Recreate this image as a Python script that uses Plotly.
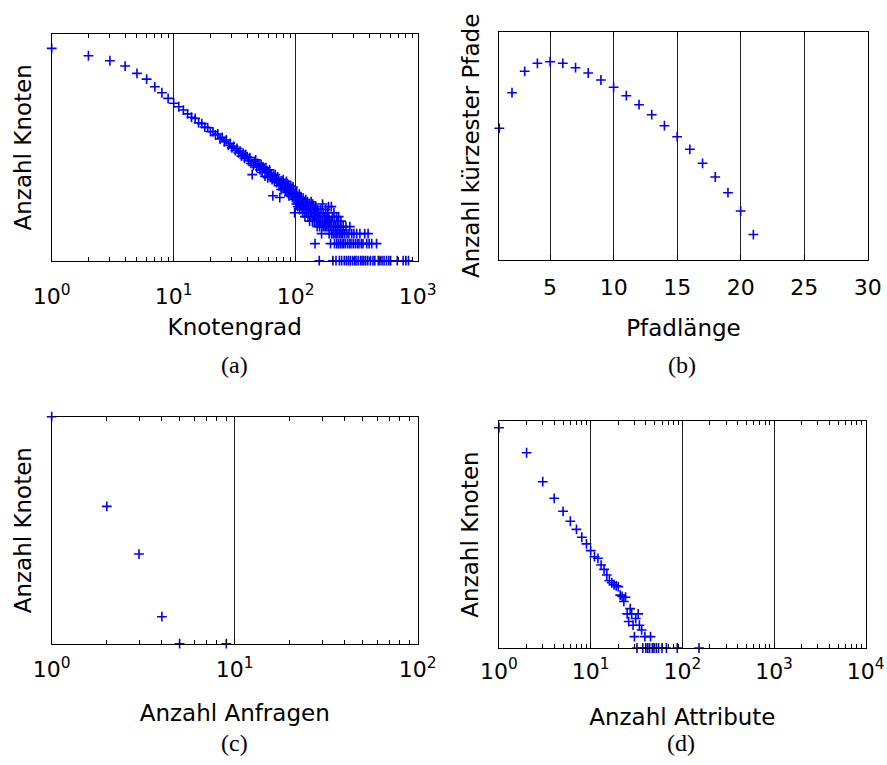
import plotly.graph_objects as go

# (a) Knotengrad -> Anzahl Knoten
grad_a = [1, 2, 3, 4, 5, 6, 7, 8, 9,
          10, 11, 12, 13, 14, 15, 16, 17, 18, 19, 20, 21, 22, 23, 24, 25, 26, 27, 28, 29,
          30, 31, 32, 33, 34, 35, 36, 37, 38, 39, 40, 41, 42, 43, 44, 45, 46, 47, 48, 49,
          50, 51, 52, 53, 54, 55, 56, 57, 58, 59, 60, 61, 62, 63, 64, 65, 66, 67, 68, 69,
          70, 71, 72, 73, 74, 75, 76, 77, 78, 79, 80, 81, 82, 83, 84, 85, 86, 87, 88, 89,
          90, 91, 92, 93, 94, 95, 96, 97, 98, 99,
          100, 101, 102, 103, 104, 105, 106, 107, 108, 109, 110, 111, 112, 113, 114, 115,
          116, 117, 118, 119, 120, 121, 122, 123, 124, 125, 126, 127, 128, 129, 130, 131,
          132, 133, 134, 135, 136, 137, 138, 139, 140, 141, 142, 143, 144, 145, 146, 147,
          148, 150, 151, 152, 153, 155, 156, 157, 158, 160, 161, 163, 164, 165, 166, 167,
          168, 170, 172, 173, 175, 176, 177, 178, 180, 182, 183, 185, 186, 187, 188, 190,
          192, 193, 195, 196, 197, 198, 200, 202, 203, 205, 206, 207, 208, 210, 212, 214,
          215, 216, 217, 219, 220, 222, 224, 225, 226, 228, 230, 232, 234, 235, 236, 238,
          240, 243, 245, 247, 250, 252, 255, 258, 260, 263, 266, 270, 273, 276, 278, 280,
          284, 288, 292, 296, 300, 304, 308, 312, 316, 320, 325, 330, 336, 340, 345, 350,
          356, 362, 368, 375, 382, 390, 392, 400, 410, 420, 430, 445, 460, 475, 490, 510,
          530, 555, 580, 600, 680, 760, 800, 840]
anzahl_a = [5570, 4130, 3370, 2720, 2020, 1600, 1170, 920, 730,
            600, 520, 455, 390, 340, 325, 270, 262, 228, 222, 190, 188, 165, 172, 140, 150, 126, 135, 108, 118,
            98, 104, 88, 96, 80, 86, 70, 79, 64, 74, 68, 58, 66, 52, 33, 48, 56, 60, 44, 52,
            47, 40, 50, 36, 45, 42, 31, 44, 38, 29, 36, 40, 30, 34, 27, 14, 31, 25, 33, 28,
            24, 30, 26, 21, 13, 23, 18, 25, 22, 27, 19, 23, 17, 21, 25, 16, 20, 22, 14, 19,
            17, 21, 15, 18, 13, 20, 16, 12, 7, 15,
            14, 10, 16, 12, 9, 13, 11, 15, 8, 12, 10, 13, 9, 11, 7, 12,
            10, 8, 11, 6, 9, 12, 7, 10, 8, 11, 6, 9, 7, 10, 5, 8,
            9, 6, 11, 7, 8, 5, 10, 6, 9, 7, 5, 8, 2, 6, 9, 5,
            7, 4, 8, 6, 5, 7, 1, 4, 6, 5, 8, 3, 4, 6, 10, 5,
            7, 4, 6, 5, 4, 8, 6, 5, 4, 7, 5, 4, 9, 6, 3, 5,
            4, 2, 5, 9, 3, 4, 6, 1, 3, 4, 7, 5, 2, 3, 4, 1,
            3, 6, 2, 4, 5, 3, 2, 6, 4, 1, 3, 2, 4, 5, 3, 1,
            2, 3, 4, 2, 1, 3, 2, 4, 1, 3, 2, 1, 3, 2, 4, 1,
            2, 3, 1, 2, 3, 1, 2, 1, 3, 2, 1, 2, 3, 1, 2, 1,
            2, 1, 3, 1, 2, 1, 3, 2, 1, 2, 1, 1, 2, 1, 1, 1,
            1, 1, 1, 1, 1, 1, 1, 1]

# (b) Pfadlaenge -> Anzahl kuerzester Pfade
laenge_b = [1, 2, 3, 4, 5, 6, 7, 8, 9, 10, 11, 12, 13, 14, 15, 16, 17, 18, 19, 20, 21]
pfade_b = [5.87e5, 2.13e7, 1.84e8, 4.13e8, 4.85e8, 4.13e8, 2.65e8, 1.55e8, 7.66e7, 3.67e7,
           1.57e7, 6.34e6, 2.31e6, 7.64e5, 2.52e5, 7.06e4, 1.72e4, 4320, 887, 140, 13]

# (c) Anzahl Anfragen -> Anzahl Knoten
anfragen_c = [1, 2, 3, 4, 5, 9]
knoten_c = [340, 34, 10, 2, 1, 1]

# (d) Anzahl Attribute -> Anzahl Knoten
attribute_d = [1, 2, 3, 4, 5, 6, 7, 8, 9, 10, 11, 12, 13, 14, 15, 16, 17, 18, 19, 20,
               21, 22, 23, 24, 25, 26, 27, 28, 29, 30, 31, 32, 33, 34, 36, 37, 39, 40,
               42, 44, 45, 47, 49, 52, 55, 60, 67, 88, 152]
knoten_d = [665000, 145000, 24900, 9060, 4110, 2240, 1370, 845, 565, 375, 259, 235, 156,
            120, 85, 60, 53, 47, 44, 42, 25, 23, 17, 22, 8, 5, 11, 8, 4, 2, 6, 1, 8, 4,
            3, 1, 2, 1, 1, 1, 2, 1, 1, 1, 1, 1, 1, 1, 1]

W, H = 887, 765
FONT = "DejaVu Sans"
BLUE = "#0000ff"


def dom_x(p0, p1):
    return [p0 / W, p1 / W]


def dom_y(top, bottom):
    return [1 - bottom / H, 1 - top / H]


def sup(vals):
    return ["10<sup>%d</sup>" % v for v in vals]


marker = dict(symbol="cross-thin", size=7, color=BLUE, line=dict(width=1.6, color=BLUE))

fig = go.Figure()
fig.add_trace(go.Scatter(x=grad_a, y=anzahl_a, mode="markers", marker=marker,
                         cliponaxis=False, xaxis="x", yaxis="y"))
fig.add_trace(go.Scatter(x=laenge_b, y=pfade_b, mode="markers", marker=marker,
                         cliponaxis=False, xaxis="x2", yaxis="y2"))
fig.add_trace(go.Scatter(x=anfragen_c, y=knoten_c, mode="markers", marker=marker,
                         cliponaxis=False, xaxis="x3", yaxis="y3"))
fig.add_trace(go.Scatter(x=attribute_d, y=knoten_d, mode="markers", marker=marker,
                         cliponaxis=False, xaxis="x4", yaxis="y4"))

base_x = dict(showline=True, linecolor="black", linewidth=1.3, mirror="ticks",
              ticks="inside", ticklen=5, tickcolor="black", showgrid=True,
              gridcolor="#222222", gridwidth=1, zeroline=False,
              tickfont=dict(family=FONT, size=22, color="black"), automargin=False)
base_y = dict(showline=True, linecolor="black", linewidth=1.3, mirror=True,
              ticks="", showticklabels=False, showgrid=False, zeroline=False,
              automargin=False)
minor_log = dict(ticks="inside", ticklen=4, tickcolor="black", dtick="D1", showgrid=False)


def xtitle(text, standoff):
    return dict(text=text, font=dict(family=FONT, size=23, color="black"), standoff=standoff)


def ytitle(text):
    return dict(text=text, font=dict(family=FONT, size=23, color="black"), standoff=12)


fig.update_layout(
    width=W, height=H,
    margin=dict(l=0, r=0, t=0, b=0),
    paper_bgcolor="white", plot_bgcolor="white",
    showlegend=False,
    xaxis=dict(base_x, type="log", domain=dom_x(51.7, 417.7), range=[0, 3],
               tickvals=[1, 10, 100, 1000], ticktext=sup([0, 1, 2, 3]),
               ticklabelstandoff=16, minor=minor_log,
               title=xtitle("Knotengrad", 10), anchor="y"),
    yaxis=dict(base_y, type="log", domain=dom_y(34, 260.7), range=[0, 4],
               title=ytitle("Anzahl Knoten"), anchor="x"),
    xaxis2=dict(base_x, domain=dom_x(499.3, 867.7), range=[1, 30],
                tickvals=[5, 10, 15, 20, 25, 30], ticklabelstandoff=7,
                title=xtitle("Pfadlänge", 21), anchor="y2"),
    yaxis2=dict(base_y, type="log", domain=dom_y(31.7, 260), range=[0, 10],
                title=ytitle("Anzahl kürzester Pfade"), anchor="x2"),
    xaxis3=dict(base_x, type="log", domain=dom_x(51.7, 417.7), range=[0, 2],
                tickvals=[1, 10, 100], ticktext=sup([0, 1, 2]),
                ticklabelstandoff=6, minor=minor_log,
                title=xtitle("Anzahl Anfragen", 23), anchor="y3"),
    yaxis3=dict(base_y, type="log", domain=dom_y(416.7, 643.7), range=[0, 2.5315],
                title=ytitle("Anzahl Knoten"), anchor="x3"),
    xaxis4=dict(base_x, type="log", domain=dom_x(499, 865.7), range=[0, 4],
                tickvals=[1, 10, 100, 1000, 10000], ticktext=sup([0, 1, 2, 3, 4]),
                ticklabelstandoff=3, minor=minor_log,
                title=xtitle("Anzahl Attribute", 26), anchor="y4"),
    yaxis4=dict(base_y, type="log", domain=dom_y(421, 648), range=[0, 6],
                title=ytitle("Anzahl Knoten"), anchor="x4"),
)

captions = [("(a)", 234.7, 365), ("(b)", 682, 365), ("(c)", 234.7, 743), ("(d)", 681, 743)]
for text, cx, cy in captions:
    fig.add_annotation(text=text, x=cx / W, y=1 - cy / H,
                       xref="paper", yref="paper", showarrow=False,
                       xanchor="center", yanchor="middle",
                       font=dict(family="Liberation Serif", size=24, color="black"))

# drop the browser's default body margin so the 887x765 figure fills the window
fig.write_html("out.html",
               config={"displayModeBar": False},
               post_script="document.body.style.margin='0';"
                           "document.body.style.overflow='hidden';")
